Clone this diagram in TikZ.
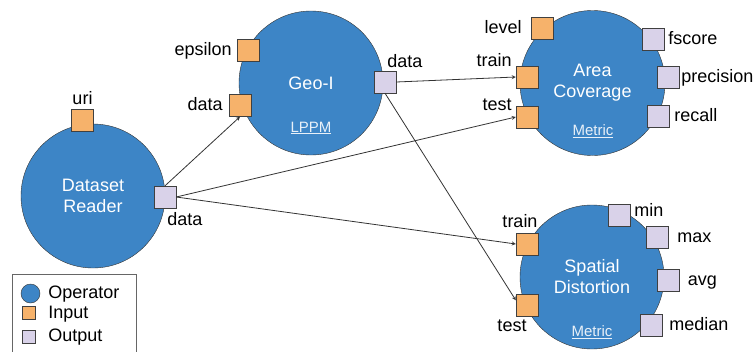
\documentclass[tikz,border=0pt]{standalone}
\usepackage{fontspec}
\setmainfont{Liberation Sans}
\usetikzlibrary{arrows}
\usetikzlibrary{positioning}
\definecolor{opblue}{HTML}{3D85C6}
\definecolor{inorange}{HTML}{F6B26B}
\definecolor{outlilac}{HTML}{D9D2E9}
\definecolor{edgegray}{HTML}{333333}
\newcommand{\pnode}[3]{\node(#1)[#2] at (#3){}}

\begin{document}
\begin{tikzpicture}[
        x=1pt,y=-1pt,
        every node/.style={font=\fontsize{18}{21}\selectfont},
        op/.style={circle,minimum size=144pt,inner sep=0pt,fill=opblue,
                   draw=black!80,thin,text=white,align=center},
        inbox/.style={rectangle,minimum size=22pt,inner sep=0pt,
                      fill=inorange,draw=black!75,thin},
        outbox/.style={rectangle,minimum size=22pt,inner sep=0pt,
                       fill=outlilac,draw=black!75,thin},
        port/.style={inner sep=1pt,text height=13pt,text depth=3pt},
        tag/.style={font=\fontsize{15}{18}\selectfont,text=white!88!opblue},
        link/.style={->,>=stealth,draw=edgegray,line width=0.8pt}
      ]
      \useasboundingbox (0,0) rectangle (755,351);

      % operators
      \node(dr)[op] at (93,196) {Dataset\\Reader};
      \node(geo)[op] at (311,83) {Geo-I};
      \node(ac)[op,minimum size=145pt] at (592.5,83) {Area\\Coverage};
      \node(sd)[op] at (592,277) {Spatial\\Distortion};
      \node(geotag)[tag] at (311,128) {\underline{LPPM}};
      \node(actag)[tag] at (593,131) {\underline{Metric}};
      \node(sdtag)[tag] at (592,332) {\underline{Metric}};

      % ports
      \pnode{druri}{inbox}{82.5,120}; \pnode{drout}{outbox}{165,197};
      \pnode{geoeps}{inbox}{248,50}; \pnode{geoin}{inbox}{240,105.5};
      \pnode{geoout}{outbox}{385,82};
      \pnode{aclevel}{inbox}{542,28}; \pnode{actrain}{inbox}{527,77};
      \pnode{actest}{inbox}{527,117};
      \pnode{acfscore}{outbox}{653,39}; \pnode{acprec}{outbox}{668,77.5};
      \pnode{acrecall}{outbox}{658,116.5};
      \pnode{sdtrain}{inbox}{527,244}; \pnode{sdtest}{inbox}{527,305.5};
      \pnode{sdmin}{outbox}{619,215}; \pnode{sdmax}{outbox}{657,237};
      \pnode{sdavg}{outbox}{668.5,280}; \pnode{sdmedian}{outbox}{651,325};

      % port labels
      \node(lruri)[port,above=0pt of druri] {uri};
      \node(lrout)[port,below right=3pt and -10pt of drout] {data};
      \node(lgeps)[port,left=4pt of geoeps] {epsilon};
      \node(lgin)[port,left=5pt of geoin] {data};
      \node(lgout)[port,above right=-1pt and -10pt of geoout] {data};
      \node(laclv)[port,left=8pt of aclevel] {level};
      \node(lactr)[port,above left=-5pt and 3pt of actrain] {train};
      \node(lacte)[port,above left=-9pt and 3pt of actest] {test};
      \node(lacfs)[port,right=3pt of acfscore] {fscore};
      \node(lacpr)[port,right=1pt of acprec] {precision};
      \node(lacrc)[port,right=4pt of acrecall] {recall};
      \node(lsdtr)[port,above=1pt of sdtrain,xshift=-7pt] {train};
      \node(lsdte)[port,below=1pt of sdtest,xshift=-15pt] {test};
      \node(lsdmin)[port,right=3pt of sdmin,yshift=4pt] {min};
      \node(lsdmax)[port,right=8pt of sdmax] {max};
      \node(lsdavg)[port,right=7pt of sdavg] {avg};
      \node(lsdmed)[port,right=6pt of sdmedian] {median};

      % links
      \draw[link] (drout.north) -- (geoin.south);
      \draw[link] (drout.east) -- (actest.west);
      \draw[link] (drout.east) -- (sdtrain.west);
      \draw[link] (geoout.east) -- (actrain.west);
      \draw[link] (geoout.south) -- (sdtest.155);

      % legend
      \draw[draw=black!60,line width=0.8pt] (12,355) rectangle (136,274);
      \node(legop)[circle,minimum size=19pt,inner sep=0pt,fill=opblue,
                   draw=black!80] at (30.5,293.5) {};
      \node(legin)[inbox,minimum size=13pt] at (28.5,313) {};
      \node(legout)[outbox,minimum size=13pt] at (28.5,336.5) {};
      \node(lgop)[port,right=7pt of legop] {Operator};
      \node(lgin)[port,right=12pt of legin] {Input};
      \node(lgout)[port,right=12pt of legout] {Output};
    \end{tikzpicture}
\end{document}
